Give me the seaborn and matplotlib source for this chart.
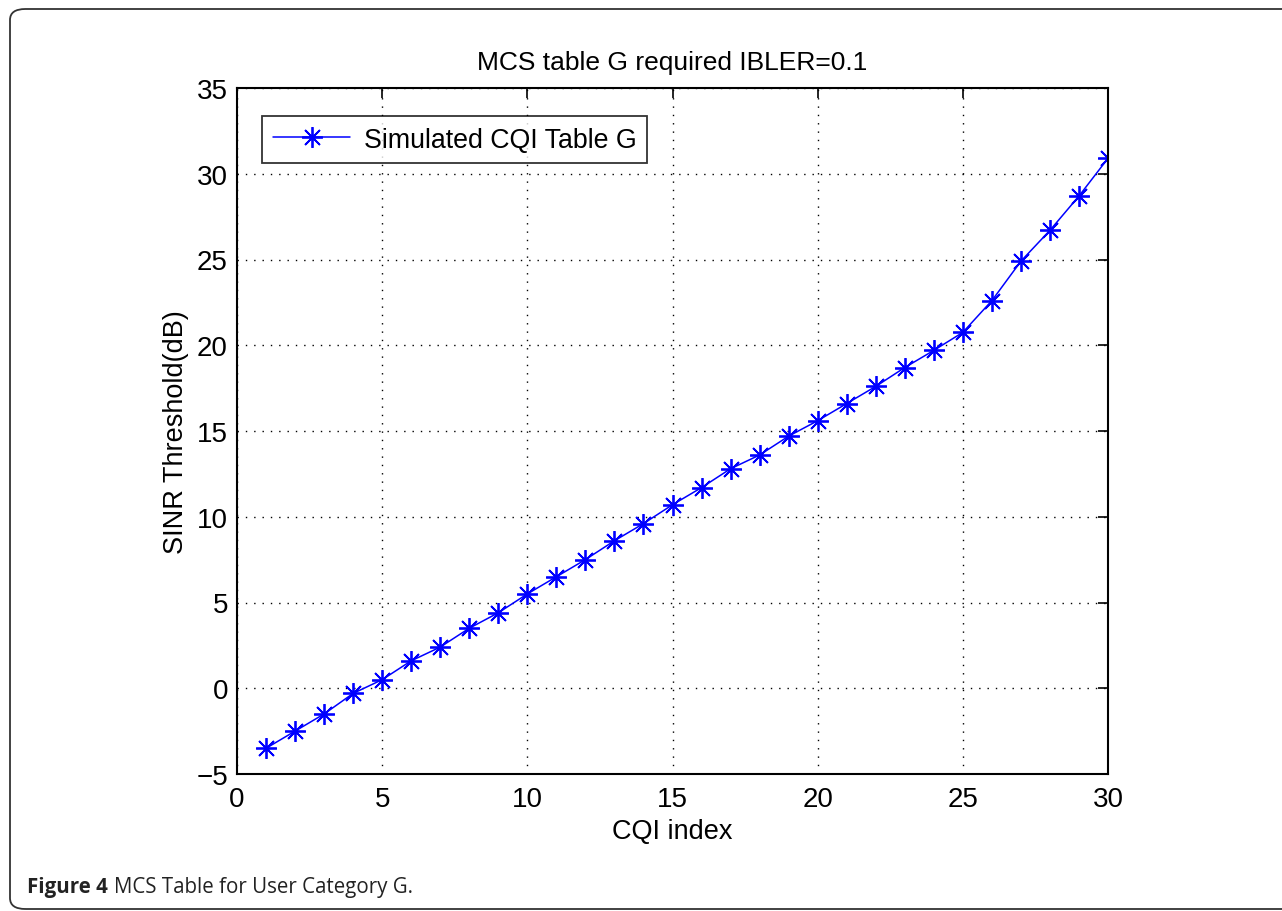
import matplotlib
matplotlib.use('Agg')
import matplotlib.pyplot as plt
from matplotlib.patches import FancyBboxPatch
import pandas as pd
import seaborn as sns

# Datos
cqi_index = list(range(1, 31))
sinr_threshold = [-3.5, -2.5, -1.5, -0.3, 0.5, 1.6, 2.4, 3.5, 4.4, 5.5,
                  6.5, 7.5, 8.6, 9.6, 10.7, 11.7, 12.8, 13.6, 14.7, 15.6,
                  16.6, 17.6, 18.7, 19.7, 20.75, 22.6, 24.9, 26.7, 28.7, 30.9]
serie = 'Simulated CQI Table G'
x_ticks = [0, 5, 10, 15, 20, 25, 30]
y_ticks = [-5, 0, 5, 10, 15, 20, 25, 30, 35]

df = pd.DataFrame({'cqi': cqi_index, 'sinr': sinr_threshold})

sns.set_style('white')
plt.rcParams['font.family'] = ['Liberation Sans', 'DejaVu Sans']
plt.rcParams['text.color'] = 'black'
plt.rcParams['axes.labelcolor'] = 'black'

W, H = 1282, 912
fig = plt.figure(figsize=(W / 100, H / 100), dpi=100)
ax = fig.add_axes([237 / W, 1 - 775 / H, 871 / W, 686 / H])

# asterisco estilo MATLAB (+ y x)
sns.lineplot(data=df, x='cqi', y='sinr', ax=ax, color='#0000ff', marker=(8, 2, 0),
             markersize=15, markeredgecolor='#0000ff', markeredgewidth=1.3,
             linewidth=1.1, label=serie)

ax.set_xlim(0, 30)
ax.set_ylim(-5, 35)
ax.set_xticks(x_ticks)
ax.set_yticks(y_ticks)
ax.set_xticklabels([str(t) for t in x_ticks])
ax.set_yticklabels([str(t).replace('-', '\u2212') for t in y_ticks])
ax.tick_params(direction='in', length=7, width=1.2, labelsize=20,
               top=True, right=True, colors='black')
ax.tick_params(axis='x', pad=9)
ax.tick_params(axis='y', pad=6.5)
ax.grid(True, linestyle=(0, (1, 5)), color='black', linewidth=1.0)
for s in ax.spines.values():
    s.set_color('black')
    s.set_linewidth(1.5)

ax.set_title('MCS table G required IBLER=0.1', fontsize=19, pad=14, color='black')
ax.set_xlabel('CQI index', fontsize=19.5, labelpad=4)
ax.set_ylabel('SINR Threshold(dB)', fontsize=19.5, labelpad=5)

leg = ax.legend(loc='upper left', fontsize=19.3, frameon=True, fancybox=False,
                borderpad=0.4, handlelength=2.9, handletextpad=0.5,
                borderaxespad=0, bbox_to_anchor=(25 / 871, 1 - 28 / 686))
leg.get_frame().set_edgecolor('black')
leg.get_frame().set_linewidth(1.3)
for t in leg.get_texts():
    t.set_color('black')

# Marco redondeado exterior (el lado derecho queda fuera de la imagen)
marco = FancyBboxPatch((10 / W, 2 / H), 1.3, 1 - 12 / H,
                       boxstyle='round,pad=0,rounding_size=0.012',
                       transform=fig.transFigure, fill=False,
                       edgecolor='#333333', linewidth=1.3)
fig.patches.append(marco)

# Pie de figura
y_pie = 1 - 888 / H
t1 = fig.text(27 / W, y_pie, 'Figure 4', fontsize=14.8, fontweight='bold',
              family=['Open Sans', 'DejaVu Sans'], color='#222222', va='center')
fig.canvas.draw()
bb = t1.get_window_extent()
fig.text((bb.x1 + 6) / W, y_pie, 'MCS Table for User Category G.', fontsize=14.8,
         family=['Open Sans', 'DejaVu Sans'], color='#222222', va='center')

fig.savefig('out.png', dpi=100)
